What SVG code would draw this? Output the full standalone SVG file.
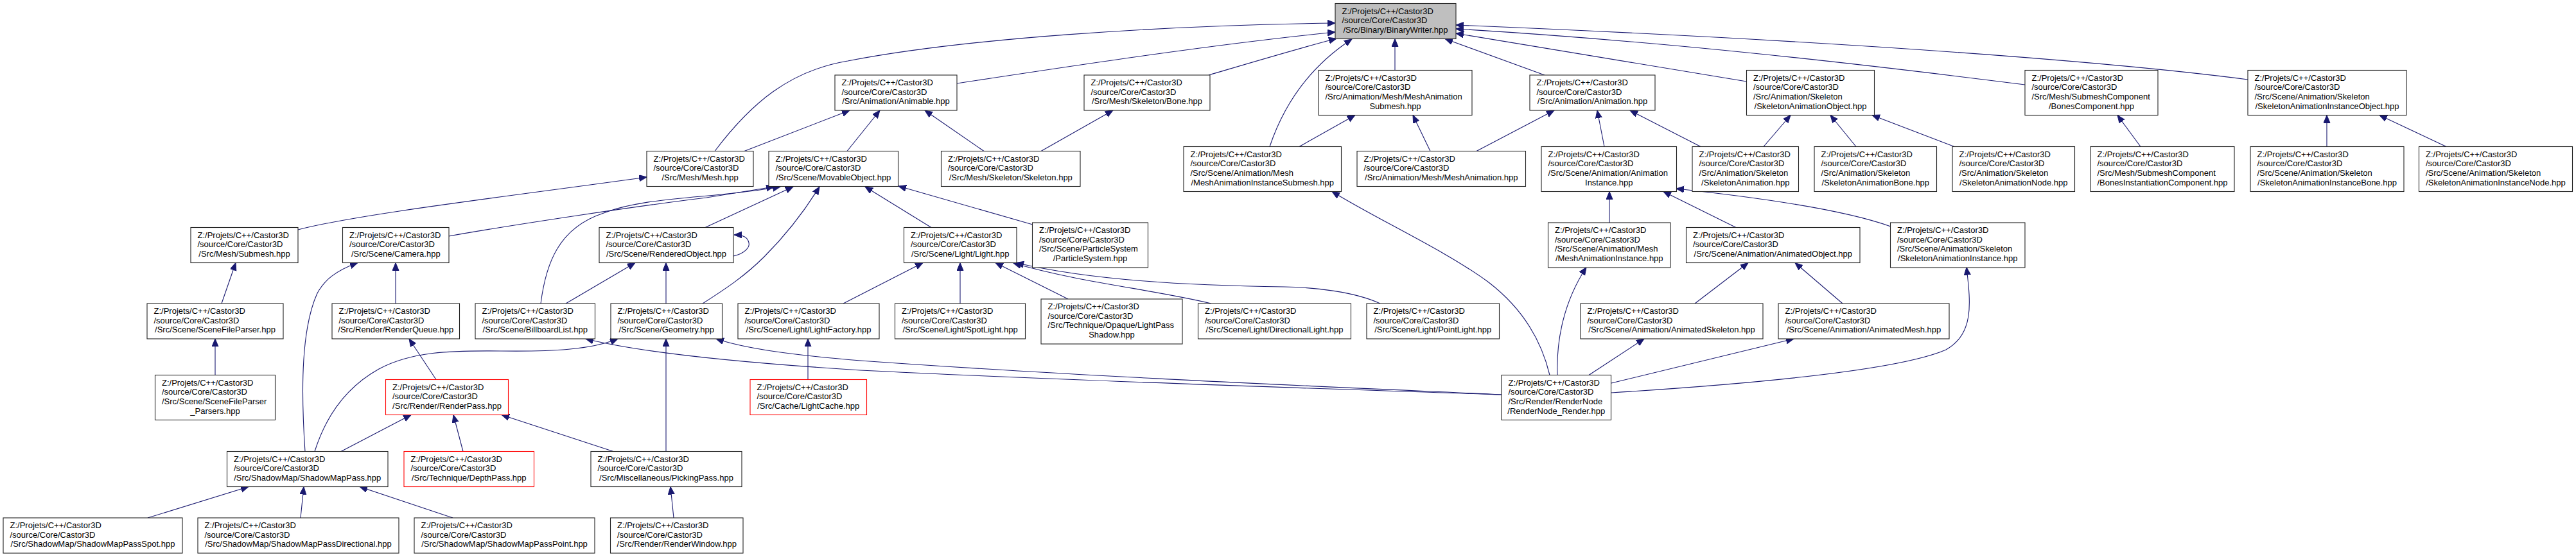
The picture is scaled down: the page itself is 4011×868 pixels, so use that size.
<svg xmlns="http://www.w3.org/2000/svg" width="4011" height="868" viewBox="0 0 4011 868">
<style>
.n rect{fill:#fff;stroke:#222;stroke-width:1.1}
.n.root rect{fill:#bfbfbf}
.n.red rect{stroke:#f00}
text{font-family:"Liberation Sans",Arial,sans-serif;font-size:13px;fill:#000}
text.c{text-anchor:middle}
.e path{fill:none;stroke:#191970;stroke-width:1.1;marker-end:url(#a)}
</style>
<defs>
<marker id="a" markerUnits="userSpaceOnUse" markerWidth="13" markerHeight="11" refX="12" refY="5" orient="auto"><path d="M0,0 L12,5 L0,10 z" fill="#191970" stroke="#191970" stroke-width="1"/></marker>
</defs>
<rect width="4011" height="868" fill="#fff"/>
<g id="edges" class="e">
<path d="M1113,235.5 C1170,160 1230,110 1320,95 C1500,60 1800,40 2079,36"/>
<path d="M464,358 C560,333 800,305 1007,276"/>
<path d="M1159,235.5 L1323,172"/>
<path d="M1319,235.5 L1370,172"/>
<path d="M1532,235.5 L1440,172"/>
<path d="M1621,235.5 L1733,172"/>
<path d="M1490,130 C1700,98 1900,68 2079,50"/>
<path d="M1882,117 C1960,94 2020,76 2081,60"/>
<path d="M1977,228.5 C1995,175 2030,110 2105,61"/>
<path d="M2172,109.5 L2172,60.5"/>
<path d="M2405,117 L2250,60.5"/>
<path d="M2719.5,127 L2267,52"/>
<path d="M3153,132 C2900,100 2600,65 2267,45"/>
<path d="M3500,124 C3300,98 2900,65 2267,39"/>
<path d="M2023,228.5 L2110,179.5"/>
<path d="M2227,235.5 L2200,179.5"/>
<path d="M2299,235.5 L2420,172"/>
<path d="M2498,228.5 L2487,172"/>
<path d="M2648,228.5 L2538,172"/>
<path d="M2746,228.5 L2788,179.5"/>
<path d="M2890,228.5 L2850,179.5"/>
<path d="M3043,228.5 L2915,179.5"/>
<path d="M3333,228.5 L3297,179.5"/>
<path d="M3623,228.5 L3623,179.5"/>
<path d="M3809,228.5 L3705,179.5"/>
<path d="M2506,347 L2506,298.5"/>
<path d="M2703,354.5 L2590,298.5"/>
<path d="M2944,353 C2880,330 2760,310 2610,294"/>
<path d="M699,368 C800,350 1000,320 1100,308 L1205,291"/>
<path d="M842,473 C850,410 870,355 940,332 C1010,305 1110,310 1215,291"/>
<path d="M1098,354.5 L1235,291"/>
<path d="M1142,399 C1160,395 1168,385 1166,378 C1164,370 1158,366 1143,366"/>
<path d="M1094,473 C1130,450 1160,430 1190,400 C1225,365 1255,325 1276,291"/>
<path d="M1450,354.5 L1347,291"/>
<path d="M1608,350 L1399,290"/>
<path d="M881,473 L989,409.5"/>
<path d="M1037,473 L1037,409.5"/>
<path d="M1313,473 L1437,409.5"/>
<path d="M1495,473 L1495,409.5"/>
<path d="M1663,466 L1550,409.5"/>
<path d="M1886,473 C1800,452 1680,440 1578,410"/>
<path d="M2149,473 C2110,455 2050,448 2000,447 C1850,445 1700,437 1582,409.5"/>
<path d="M616,473 L616,409.5"/>
<path d="M475,703.5 C468,600 470,510 494,457 C505,437 522,422 557,409.5"/>
<path d="M345,473 L367,409.5"/>
<path d="M335,584.5 L335,528"/>
<path d="M679,591.5 L637,528"/>
<path d="M531,703.5 L640,646.5"/>
<path d="M490,703.5 C510,640 545,600 590,575 C640,548 700,546 780,547 C860,548 920,545 962,528"/>
<path d="M721,703.5 L706,646.5"/>
<path d="M955,703.5 L781,646.5"/>
<path d="M1037,703.5 L1037,528"/>
<path d="M1049,807 L1044,758.5"/>
<path d="M230,807 L387,758.5"/>
<path d="M468,807 L473,758.5"/>
<path d="M705,807 L560,758.5"/>
<path d="M1258,591.5 L1258,528"/>
<path d="M2338,615 C2100,607 1700,595 1340,577 C1150,565 1000,550 912,528"/>
<path d="M2338,615 C2100,604 1700,588 1340,562 C1230,553 1160,543 1115,528"/>
<path d="M2413,584.5 C2400,530 2370,480 2318,440 C2250,390 2150,345 2074,298.5"/>
<path d="M2425,584.5 C2423,530 2435,470 2470,416.5"/>
<path d="M2474,584.5 L2560,528"/>
<path d="M2509,597 L2793,528"/>
<path d="M2509,612 C2700,600 2950,580 3030,545 C3075,520 3068,470 3062,416.5"/>
<path d="M2639,473 L2722,409.5"/>
<path d="M2869,473 L2795,409.5"/>
</g>
<g id="n_root" class="n root"><rect x="2079" y="5.5" width="188" height="55"/><text x="2089.5" y="21.5">Z:/Projets/C++/Castor3D<tspan x="2089.5" y="36.2">/source/Core/Castor3D</tspan></text><text class="c" x="2173" y="50.9">/Src/Binary/BinaryWriter.hpp</text></g>
<g id="n_animable" class="n"><rect x="1300" y="117" width="190" height="55"/><text x="1310.5" y="133">Z:/Projets/C++/Castor3D<tspan x="1310.5" y="147.7">/source/Core/Castor3D</tspan></text><text class="c" x="1395" y="162.4">/Src/Animation/Animable.hpp</text></g>
<g id="n_bone" class="n"><rect x="1688" y="117" width="196" height="55"/><text x="1698.5" y="133">Z:/Projets/C++/Castor3D<tspan x="1698.5" y="147.7">/source/Core/Castor3D</tspan></text><text class="c" x="1786" y="162.4">/Src/Mesh/Skeleton/Bone.hpp</text></g>
<g id="n_meshanimsubmesh" class="n"><rect x="2053" y="109.5" width="239" height="70"/><text x="2063.5" y="125.5">Z:/Projets/C++/Castor3D<tspan x="2063.5" y="140.2">/source/Core/Castor3D</tspan><tspan x="2063.5" y="154.9">/Src/Animation/Mesh/MeshAnimation</tspan></text><text class="c" x="2172.5" y="169.6">Submesh.hpp</text></g>
<g id="n_animation" class="n"><rect x="2382" y="117" width="195" height="55"/><text x="2392.5" y="133">Z:/Projets/C++/Castor3D<tspan x="2392.5" y="147.7">/source/Core/Castor3D</tspan></text><text class="c" x="2479.5" y="162.4">/Src/Animation/Animation.hpp</text></g>
<g id="n_skelanimobject" class="n"><rect x="2719.5" y="109.5" width="199" height="70"/><text x="2730" y="125.5">Z:/Projets/C++/Castor3D<tspan x="2730" y="140.2">/source/Core/Castor3D</tspan><tspan x="2730" y="154.9">/Src/Animation/Skeleton</tspan></text><text class="c" x="2819" y="169.6">/SkeletonAnimationObject.hpp</text></g>
<g id="n_bonescomponent" class="n"><rect x="3153" y="109.5" width="207" height="70"/><text x="3163.5" y="125.5">Z:/Projets/C++/Castor3D<tspan x="3163.5" y="140.2">/source/Core/Castor3D</tspan><tspan x="3163.5" y="154.9">/Src/Mesh/SubmeshComponent</tspan></text><text class="c" x="3256.5" y="169.6">/BonesComponent.hpp</text></g>
<g id="n_skelaniminstobject" class="n"><rect x="3500" y="109.5" width="247" height="70"/><text x="3510.5" y="125.5">Z:/Projets/C++/Castor3D<tspan x="3510.5" y="140.2">/source/Core/Castor3D</tspan><tspan x="3510.5" y="154.9">/Src/Scene/Animation/Skeleton</tspan></text><text class="c" x="3623.5" y="169.6">/SkeletonAnimationInstanceObject.hpp</text></g>
<g id="n_mesh" class="n"><rect x="1007" y="235.5" width="166" height="55"/><text x="1017.5" y="251.5">Z:/Projets/C++/Castor3D<tspan x="1017.5" y="266.2">/source/Core/Castor3D</tspan></text><text class="c" x="1090" y="280.9">/Src/Mesh/Mesh.hpp</text></g>
<g id="n_movableobject" class="n"><rect x="1197" y="235.5" width="201.5" height="55"/><text x="1207.5" y="251.5">Z:/Projets/C++/Castor3D<tspan x="1207.5" y="266.2">/source/Core/Castor3D</tspan></text><text class="c" x="1297.75" y="280.9">/Src/Scene/MovableObject.hpp</text></g>
<g id="n_skeleton" class="n"><rect x="1465.5" y="235.5" width="216.5" height="55"/><text x="1476" y="251.5">Z:/Projets/C++/Castor3D<tspan x="1476" y="266.2">/source/Core/Castor3D</tspan></text><text class="c" x="1573.75" y="280.9">/Src/Mesh/Skeleton/Skeleton.hpp</text></g>
<g id="n_meshaniminstsubmesh" class="n"><rect x="1843" y="228.5" width="245.5" height="70"/><text x="1853.5" y="244.5">Z:/Projets/C++/Castor3D<tspan x="1853.5" y="259.2">/source/Core/Castor3D</tspan><tspan x="1853.5" y="273.9">/Src/Scene/Animation/Mesh</tspan></text><text class="c" x="1965.75" y="288.6">/MeshAnimationInstanceSubmesh.hpp</text></g>
<g id="n_meshanimation" class="n"><rect x="2113" y="235.5" width="262.5" height="55"/><text x="2123.5" y="251.5">Z:/Projets/C++/Castor3D<tspan x="2123.5" y="266.2">/source/Core/Castor3D</tspan></text><text class="c" x="2244.25" y="280.9">/Src/Animation/Mesh/MeshAnimation.hpp</text></g>
<g id="n_animationinstance" class="n"><rect x="2400" y="228.5" width="210.5" height="70"/><text x="2410.5" y="244.5">Z:/Projets/C++/Castor3D<tspan x="2410.5" y="259.2">/source/Core/Castor3D</tspan><tspan x="2410.5" y="273.9">/Src/Scene/Animation/Animation</tspan></text><text class="c" x="2505.25" y="288.6">Instance.hpp</text></g>
<g id="n_skelanimation" class="n"><rect x="2635" y="228.5" width="165.5" height="70"/><text x="2645.5" y="244.5">Z:/Projets/C++/Castor3D<tspan x="2645.5" y="259.2">/source/Core/Castor3D</tspan><tspan x="2645.5" y="273.9">/Src/Animation/Skeleton</tspan></text><text class="c" x="2717.75" y="288.6">/SkeletonAnimation.hpp</text></g>
<g id="n_skelanimbone" class="n"><rect x="2825" y="228.5" width="190.5" height="70"/><text x="2835.5" y="244.5">Z:/Projets/C++/Castor3D<tspan x="2835.5" y="259.2">/source/Core/Castor3D</tspan><tspan x="2835.5" y="273.9">/Src/Animation/Skeleton</tspan></text><text class="c" x="2920.25" y="288.6">/SkeletonAnimationBone.hpp</text></g>
<g id="n_skelanimnode" class="n"><rect x="3040" y="228.5" width="190.5" height="70"/><text x="3050.5" y="244.5">Z:/Projets/C++/Castor3D<tspan x="3050.5" y="259.2">/source/Core/Castor3D</tspan><tspan x="3050.5" y="273.9">/Src/Animation/Skeleton</tspan></text><text class="c" x="3135.25" y="288.6">/SkeletonAnimationNode.hpp</text></g>
<g id="n_bonesinstcomponent" class="n"><rect x="3255" y="228.5" width="224" height="70"/><text x="3265.5" y="244.5">Z:/Projets/C++/Castor3D<tspan x="3265.5" y="259.2">/source/Core/Castor3D</tspan><tspan x="3265.5" y="273.9">/Src/Mesh/SubmeshComponent</tspan></text><text class="c" x="3367" y="288.6">/BonesInstantiationComponent.hpp</text></g>
<g id="n_skelaniminstbone" class="n"><rect x="3504" y="228.5" width="239" height="70"/><text x="3514.5" y="244.5">Z:/Projets/C++/Castor3D<tspan x="3514.5" y="259.2">/source/Core/Castor3D</tspan><tspan x="3514.5" y="273.9">/Src/Scene/Animation/Skeleton</tspan></text><text class="c" x="3623.5" y="288.6">/SkeletonAnimationInstanceBone.hpp</text></g>
<g id="n_skelaniminstnode" class="n"><rect x="3766.5" y="228.5" width="239" height="70"/><text x="3777" y="244.5">Z:/Projets/C++/Castor3D<tspan x="3777" y="259.2">/source/Core/Castor3D</tspan><tspan x="3777" y="273.9">/Src/Scene/Animation/Skeleton</tspan></text><text class="c" x="3886" y="288.6">/SkeletonAnimationInstanceNode.hpp</text></g>
<g id="n_submesh" class="n"><rect x="297" y="354.5" width="167" height="55"/><text x="307.5" y="370.5">Z:/Projets/C++/Castor3D<tspan x="307.5" y="385.2">/source/Core/Castor3D</tspan></text><text class="c" x="380.5" y="399.9">/Src/Mesh/Submesh.hpp</text></g>
<g id="n_camera" class="n"><rect x="533.5" y="354.5" width="165.5" height="55"/><text x="544" y="370.5">Z:/Projets/C++/Castor3D<tspan x="544" y="385.2">/source/Core/Castor3D</tspan></text><text class="c" x="616.25" y="399.9">/Src/Scene/Camera.hpp</text></g>
<g id="n_renderedobject" class="n"><rect x="933" y="354.5" width="209" height="55"/><text x="943.5" y="370.5">Z:/Projets/C++/Castor3D<tspan x="943.5" y="385.2">/source/Core/Castor3D</tspan></text><text class="c" x="1037.5" y="399.9">/Src/Scene/RenderedObject.hpp</text></g>
<g id="n_light" class="n"><rect x="1407.5" y="354.5" width="175.5" height="55"/><text x="1418" y="370.5">Z:/Projets/C++/Castor3D<tspan x="1418" y="385.2">/source/Core/Castor3D</tspan></text><text class="c" x="1495.25" y="399.9">/Src/Scene/Light/Light.hpp</text></g>
<g id="n_particlesystem" class="n"><rect x="1607.5" y="347" width="180" height="70"/><text x="1618" y="363">Z:/Projets/C++/Castor3D<tspan x="1618" y="377.7">/source/Core/Castor3D</tspan><tspan x="1618" y="392.4">/Src/Scene/ParticleSystem</tspan></text><text class="c" x="1697.5" y="407.1">/ParticleSystem.hpp</text></g>
<g id="n_meshaniminstance" class="n"><rect x="2410.5" y="347" width="190.5" height="70"/><text x="2421" y="363">Z:/Projets/C++/Castor3D<tspan x="2421" y="377.7">/source/Core/Castor3D</tspan><tspan x="2421" y="392.4">/Src/Scene/Animation/Mesh</tspan></text><text class="c" x="2505.75" y="407.1">/MeshAnimationInstance.hpp</text></g>
<g id="n_animatedobject" class="n"><rect x="2625.5" y="354.5" width="270.5" height="55"/><text x="2636" y="370.5">Z:/Projets/C++/Castor3D<tspan x="2636" y="385.2">/source/Core/Castor3D</tspan></text><text class="c" x="2760.75" y="399.9">/Src/Scene/Animation/AnimatedObject.hpp</text></g>
<g id="n_skelaniminstance" class="n"><rect x="2943.5" y="347" width="209.5" height="70"/><text x="2954" y="363">Z:/Projets/C++/Castor3D<tspan x="2954" y="377.7">/source/Core/Castor3D</tspan><tspan x="2954" y="392.4">/Src/Scene/Animation/Skeleton</tspan></text><text class="c" x="3048.25" y="407.1">/SkeletonAnimationInstance.hpp</text></g>
<g id="n_scenefileparser" class="n"><rect x="229" y="473" width="212" height="55"/><text x="239.5" y="489">Z:/Projets/C++/Castor3D<tspan x="239.5" y="503.7">/source/Core/Castor3D</tspan></text><text class="c" x="335" y="518.4">/Src/Scene/SceneFileParser.hpp</text></g>
<g id="n_renderqueue" class="n"><rect x="517" y="473" width="198.5" height="55"/><text x="527.5" y="489">Z:/Projets/C++/Castor3D<tspan x="527.5" y="503.7">/source/Core/Castor3D</tspan></text><text class="c" x="616.25" y="518.4">/Src/Render/RenderQueue.hpp</text></g>
<g id="n_billboardlist" class="n"><rect x="740" y="473" width="186.5" height="55"/><text x="750.5" y="489">Z:/Projets/C++/Castor3D<tspan x="750.5" y="503.7">/source/Core/Castor3D</tspan></text><text class="c" x="833.25" y="518.4">/Src/Scene/BillboardList.hpp</text></g>
<g id="n_geometry" class="n"><rect x="951" y="473" width="173.5" height="55"/><text x="961.5" y="489">Z:/Projets/C++/Castor3D<tspan x="961.5" y="503.7">/source/Core/Castor3D</tspan></text><text class="c" x="1037.75" y="518.4">/Src/Scene/Geometry.hpp</text></g>
<g id="n_lightfactory" class="n"><rect x="1149" y="473" width="220" height="55"/><text x="1159.5" y="489">Z:/Projets/C++/Castor3D<tspan x="1159.5" y="503.7">/source/Core/Castor3D</tspan></text><text class="c" x="1259" y="518.4">/Src/Scene/Light/LightFactory.hpp</text></g>
<g id="n_spotlight" class="n"><rect x="1393.5" y="473" width="203" height="55"/><text x="1404" y="489">Z:/Projets/C++/Castor3D<tspan x="1404" y="503.7">/source/Core/Castor3D</tspan></text><text class="c" x="1495" y="518.4">/Src/Scene/Light/SpotLight.hpp</text></g>
<g id="n_lightpassshadow" class="n"><rect x="1621" y="466" width="220" height="70"/><text x="1631.5" y="482">Z:/Projets/C++/Castor3D<tspan x="1631.5" y="496.7">/source/Core/Castor3D</tspan><tspan x="1631.5" y="511.4">/Src/Technique/Opaque/LightPass</tspan></text><text class="c" x="1731" y="526.1">Shadow.hpp</text></g>
<g id="n_directionallight" class="n"><rect x="1865.5" y="473" width="238" height="55"/><text x="1876" y="489">Z:/Projets/C++/Castor3D<tspan x="1876" y="503.7">/source/Core/Castor3D</tspan></text><text class="c" x="1984.5" y="518.4">/Src/Scene/Light/DirectionalLight.hpp</text></g>
<g id="n_pointlight" class="n"><rect x="2128" y="473" width="206.5" height="55"/><text x="2138.5" y="489">Z:/Projets/C++/Castor3D<tspan x="2138.5" y="503.7">/source/Core/Castor3D</tspan></text><text class="c" x="2231.25" y="518.4">/Src/Scene/Light/PointLight.hpp</text></g>
<g id="n_animatedskeleton" class="n"><rect x="2461" y="473" width="284" height="55"/><text x="2471.5" y="489">Z:/Projets/C++/Castor3D<tspan x="2471.5" y="503.7">/source/Core/Castor3D</tspan></text><text class="c" x="2603" y="518.4">/Src/Scene/Animation/AnimatedSkeleton.hpp</text></g>
<g id="n_animatedmesh" class="n"><rect x="2769" y="473" width="266" height="55"/><text x="2779.5" y="489">Z:/Projets/C++/Castor3D<tspan x="2779.5" y="503.7">/source/Core/Castor3D</tspan></text><text class="c" x="2902" y="518.4">/Src/Scene/Animation/AnimatedMesh.hpp</text></g>
<g id="n_scenefileparserparsers" class="n"><rect x="241.5" y="584.5" width="187" height="70"/><text x="252" y="600.5">Z:/Projets/C++/Castor3D<tspan x="252" y="615.2">/source/Core/Castor3D</tspan><tspan x="252" y="629.9">/Src/Scene/SceneFileParser</tspan></text><text class="c" x="335" y="644.6">_Parsers.hpp</text></g>
<g id="n_renderpass" class="n red"><rect x="600.5" y="591.5" width="191" height="55"/><text x="611" y="607.5">Z:/Projets/C++/Castor3D<tspan x="611" y="622.2">/source/Core/Castor3D</tspan></text><text class="c" x="696" y="636.9">/Src/Render/RenderPass.hpp</text></g>
<g id="n_lightcache" class="n red"><rect x="1168" y="591.5" width="181.5" height="55"/><text x="1178.5" y="607.5">Z:/Projets/C++/Castor3D<tspan x="1178.5" y="622.2">/source/Core/Castor3D</tspan></text><text class="c" x="1258.75" y="636.9">/Src/Cache/LightCache.hpp</text></g>
<g id="n_rendernoderender" class="n"><rect x="2338" y="584.5" width="170.5" height="70"/><text x="2348.5" y="600.5">Z:/Projets/C++/Castor3D<tspan x="2348.5" y="615.2">/source/Core/Castor3D</tspan><tspan x="2348.5" y="629.9">/Src/Render/RenderNode</tspan></text><text class="c" x="2423.25" y="644.6">/RenderNode_Render.hpp</text></g>
<g id="n_shadowmappass" class="n"><rect x="353.5" y="703.5" width="250.5" height="55"/><text x="364" y="719.5">Z:/Projets/C++/Castor3D<tspan x="364" y="734.2">/source/Core/Castor3D</tspan></text><text class="c" x="478.75" y="748.9">/Src/ShadowMap/ShadowMapPass.hpp</text></g>
<g id="n_depthpass" class="n red"><rect x="629" y="703.5" width="202.5" height="55"/><text x="639.5" y="719.5">Z:/Projets/C++/Castor3D<tspan x="639.5" y="734.2">/source/Core/Castor3D</tspan></text><text class="c" x="730.25" y="748.9">/Src/Technique/DepthPass.hpp</text></g>
<g id="n_pickingpass" class="n"><rect x="920" y="703.5" width="235" height="55"/><text x="930.5" y="719.5">Z:/Projets/C++/Castor3D<tspan x="930.5" y="734.2">/source/Core/Castor3D</tspan></text><text class="c" x="1037.5" y="748.9">/Src/Miscellaneous/PickingPass.hpp</text></g>
<g id="n_smpspot" class="n"><rect x="5" y="807" width="279" height="55"/><text x="15.5" y="823">Z:/Projets/C++/Castor3D<tspan x="15.5" y="837.7">/source/Core/Castor3D</tspan></text><text class="c" x="144.5" y="852.4">/Src/ShadowMap/ShadowMapPassSpot.hpp</text></g>
<g id="n_smpdirectional" class="n"><rect x="308" y="807" width="313" height="55"/><text x="318.5" y="823">Z:/Projets/C++/Castor3D<tspan x="318.5" y="837.7">/source/Core/Castor3D</tspan></text><text class="c" x="464.5" y="852.4">/Src/ShadowMap/ShadowMapPassDirectional.hpp</text></g>
<g id="n_smppoint" class="n"><rect x="645" y="807" width="281" height="55"/><text x="655.5" y="823">Z:/Projets/C++/Castor3D<tspan x="655.5" y="837.7">/source/Core/Castor3D</tspan></text><text class="c" x="785.5" y="852.4">/Src/ShadowMap/ShadowMapPassPoint.hpp</text></g>
<g id="n_renderwindow" class="n"><rect x="950.5" y="807" width="206.5" height="55"/><text x="961" y="823">Z:/Projets/C++/Castor3D<tspan x="961" y="837.7">/source/Core/Castor3D</tspan></text><text class="c" x="1053.75" y="852.4">/Src/Render/RenderWindow.hpp</text></g>
</svg>
